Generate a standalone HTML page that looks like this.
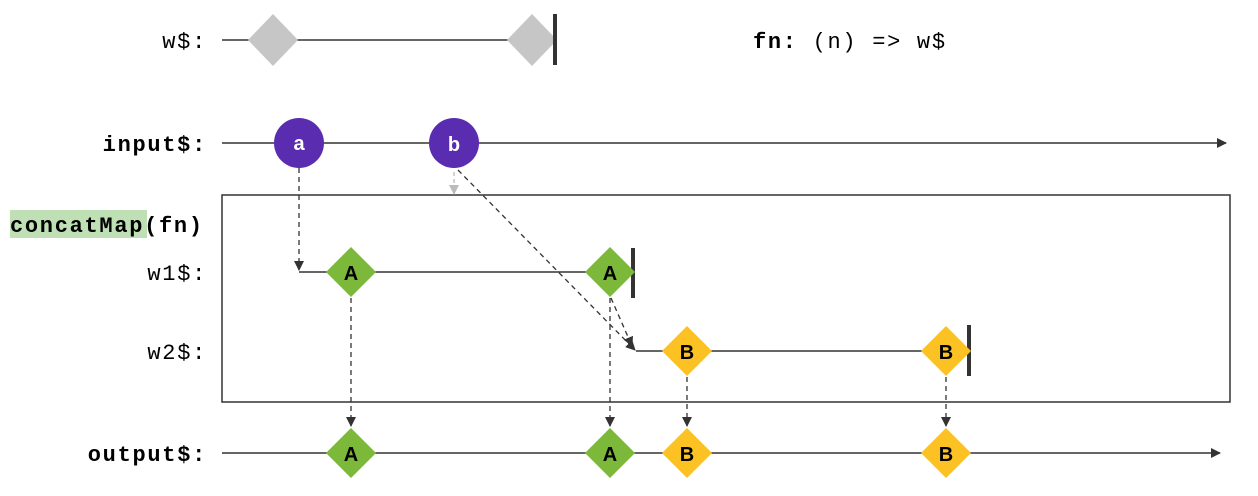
<!DOCTYPE html>
<html><head><meta charset="utf-8"><style>
html,body{margin:0;padding:0;background:#fff;width:1258px;height:496px;overflow:hidden}
</style></head><body>
<svg width="1258" height="496" viewBox="0 0 1258 496" xmlns="http://www.w3.org/2000/svg" font-family="Liberation Mono, monospace">
<defs>
<marker id="ar" markerWidth="10" markerHeight="10" refX="9" refY="5" orient="auto" markerUnits="userSpaceOnUse"><path d="M0,0 L10,5 L0,10 z" fill="#333"/></marker>
<marker id="ag" markerWidth="10" markerHeight="10" refX="9" refY="5" orient="auto" markerUnits="userSpaceOnUse"><path d="M0,0 L10,5 L0,10 z" fill="#bbb"/></marker>
</defs>
<g font-size="22" letter-spacing="1.7" text-anchor="end" fill="#000">
<text x="207" y="48">w$:</text>
<text x="207" y="151" font-weight="bold">input$:</text>
<text x="207" y="280">w1$:</text>
<text x="207" y="359">w2$:</text>
<text x="207" y="461" font-weight="bold">output$:</text>
</g>
<rect x="10" y="210" width="137" height="28" fill="#bfe0b5"/>
<text x="10" y="232" font-size="22" letter-spacing="1.7" font-weight="bold">concatMap<tspan font-weight="bold">(fn)</tspan></text>
<text x="753" y="48" font-size="22" letter-spacing="1.7"><tspan font-weight="bold">fn:</tspan>  (n) =&gt; w$</text>
<!-- w$ -->
<line x1="222" y1="40" x2="555" y2="40" stroke="#333" stroke-width="1.5"/>
<path d="M273,14 L298,40 L273,66 L248,40z" fill="#c6c6c6"/>
<path d="M532,14 L557,40 L532,66 L507,40z" fill="#c6c6c6"/>
<line x1="555" y1="14" x2="555" y2="65" stroke="#333" stroke-width="4"/>
<!-- input -->
<line x1="222" y1="143" x2="1226" y2="143" stroke="#333" stroke-width="1.5" marker-end="url(#ar)"/>
<!-- box -->
<rect x="222" y="195" width="1008" height="207" fill="none" stroke="#333" stroke-width="1.5"/>
<!-- connectors -->
<g stroke="#333" stroke-width="1.3" stroke-dasharray="5,4" fill="none">
<line x1="299" y1="168" x2="299" y2="270" marker-end="url(#ar)"/>
<line x1="458" y1="170" x2="635" y2="350" marker-end="url(#ar)"/>
<line x1="611" y1="298" x2="632" y2="346" marker-end="url(#ar)"/>
<line x1="351" y1="298" x2="351" y2="426" marker-end="url(#ar)"/>
<line x1="610" y1="298" x2="610" y2="426" marker-end="url(#ar)"/>
<line x1="687" y1="377" x2="687" y2="426" marker-end="url(#ar)"/>
<line x1="946" y1="377" x2="946" y2="426" marker-end="url(#ar)"/>
</g>
<line x1="454" y1="172" x2="454" y2="194" stroke="#bbb" stroke-width="1.3" stroke-dasharray="4,3" marker-end="url(#ag)"/>
<!-- w1 -->
<line x1="299" y1="272" x2="633" y2="272" stroke="#333" stroke-width="1.5"/>
<line x1="633" y1="248" x2="633" y2="298" stroke="#333" stroke-width="4"/>
<!-- w2 -->
<line x1="636" y1="351" x2="969" y2="351" stroke="#333" stroke-width="1.5"/>
<line x1="969" y1="325" x2="969" y2="376" stroke="#333" stroke-width="4"/>
<!-- output -->
<line x1="222" y1="453" x2="1220" y2="453" stroke="#333" stroke-width="1.5" marker-end="url(#ar)"/>
<!-- circles -->
<circle cx="299" cy="143" r="25" fill="#5a2db0"/>
<circle cx="454" cy="143" r="25" fill="#5a2db0"/>
<g font-family="Liberation Sans, sans-serif" font-weight="bold" font-size="20" text-anchor="middle">
<text x="299" y="150" fill="#fff">a</text>
<text x="454" y="151" fill="#fff">b</text>
</g>
<!-- diamonds -->
<g font-family="Liberation Sans, sans-serif" font-weight="bold" font-size="20" text-anchor="middle" fill="#000">
<path d="M351,247 L376,272 L351,297 L326,272z" fill="#7cb93a"/><text x="351" y="280">A</text>
<path d="M610,247 L635,272 L610,297 L585,272z" fill="#7cb93a"/><text x="610" y="280">A</text>
<path d="M687,326 L712,351 L687,376 L662,351z" fill="#fcc223"/><text x="687" y="359">B</text>
<path d="M946,326 L971,351 L946,376 L921,351z" fill="#fcc223"/><text x="946" y="359">B</text>
<path d="M351,428 L376,453 L351,478 L326,453z" fill="#7cb93a"/><text x="351" y="461">A</text>
<path d="M610,428 L635,453 L610,478 L585,453z" fill="#7cb93a"/><text x="610" y="461">A</text>
<path d="M687,428 L712,453 L687,478 L662,453z" fill="#fcc223"/><text x="687" y="461">B</text>
<path d="M946,428 L971,453 L946,478 L921,453z" fill="#fcc223"/><text x="946" y="461">B</text>
</g>
</svg>
</body></html>
